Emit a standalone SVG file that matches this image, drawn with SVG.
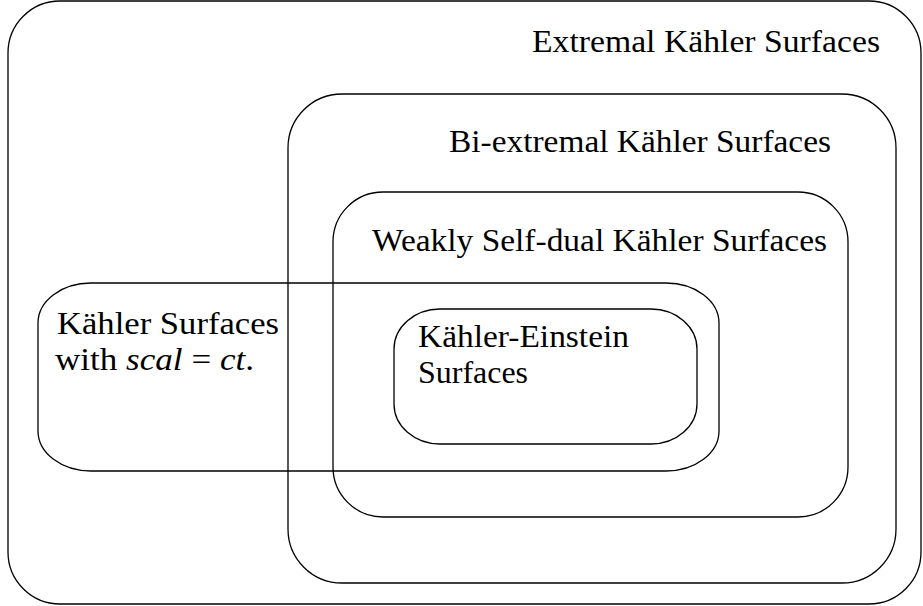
<svg xmlns="http://www.w3.org/2000/svg" width="923" height="606" viewBox="0 0 923 606">
<style>
.box{fill:none;stroke:#000;stroke-width:1.3}
text{font-family:"Liberation Serif","DejaVu Serif",serif;font-size:31px;fill:#000}
.it{font-style:italic}
</style>
<rect width="923" height="606" fill="#fff"/>
<g id="extremal">
<rect class="box" x="8" y="1" width="913" height="603" rx="52" ry="52"/>
<text x="532" y="52" textLength="348" lengthAdjust="spacingAndGlyphs">Extremal Kähler Surfaces</text>
</g>
<g id="biextremal">
<rect class="box" x="288" y="94" width="608" height="489" rx="54" ry="54"/>
<text x="449" y="152" textLength="382" lengthAdjust="spacingAndGlyphs">Bi-extremal Kähler Surfaces</text>
</g>
<g id="weakly">
<rect class="box" x="333" y="192" width="515" height="325" rx="50" ry="50"/>
<text x="372" y="251" textLength="455" lengthAdjust="spacingAndGlyphs">Weakly Self-dual Kähler Surfaces</text>
</g>
<g id="scal">
<rect class="box" x="38" y="283" width="681" height="188" rx="53" ry="40"/>
<text x="57" y="334" textLength="222" lengthAdjust="spacingAndGlyphs">Kähler Surfaces</text>
<text x="55" y="370" textLength="199" lengthAdjust="spacingAndGlyphs">with <tspan class="it">scal</tspan> = <tspan class="it">ct</tspan>.</text>
</g>
<g id="ke">
<rect class="box" x="394" y="309" width="303" height="135" rx="46" ry="40"/>
<text x="418" y="347" textLength="211" lengthAdjust="spacingAndGlyphs">Kähler-Einstein</text>
<text x="418" y="383" textLength="110" lengthAdjust="spacingAndGlyphs">Surfaces</text>
</g>
<g id="connectors"/>
</svg>
